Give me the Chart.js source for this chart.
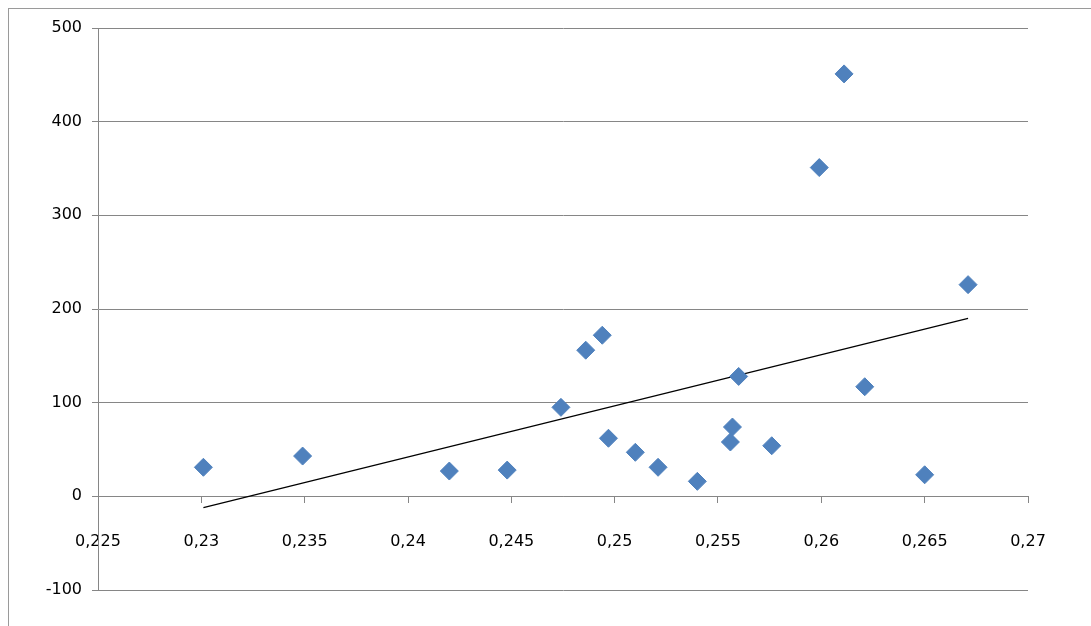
<!DOCTYPE html>
<html><head><meta charset="utf-8">
<script src="https://cdn.jsdelivr.net/npm/chart.js@4/dist/chart.umd.min.js"></script>
<style>
html,body{margin:0;padding:0;background:#fff;}
#wrap{position:relative;width:1091px;height:626px;}
#frame{position:absolute;left:8px;top:8px;width:1100px;height:700px;border:1px solid #9a9a9a;}
canvas{position:absolute;left:0;top:0;}
</style></head><body>
<div id="wrap"><div id="frame"></div><canvas id="c" width="1091" height="626"></canvas></div>
<script>
const xValues=[0.2301,0.2349,0.2420,0.2448,0.2474,0.2486,0.2494,0.2497,0.2510,0.2521,0.2540,0.2557,0.2556,0.2560,0.2576,0.2599,0.2611,0.2621,0.2650,0.2671];
const yValues=[31,43,27,28,95,156,172,62,47,31,16,74,58,128,54,351,451,117,23,226];
const trendX=[0.2301,0.2671];
const trendY=[-12,190];
const pts=xValues.map((x,i)=>({x,y:yValues[i]}));
const trend=trendX.map((x,i)=>({x,y:trendY[i]}));
new Chart(document.getElementById('c'),{
 type:'scatter',
 data:{datasets:[
  {data:pts,pointStyle:'rectRot',pointRadius:9,pointHoverRadius:9,backgroundColor:'#4F81BD',borderColor:'#4F81BD',borderWidth:1},
  {type:'line',data:trend,borderColor:'#000',borderWidth:1.2,pointRadius:0,fill:false}
 ]},
 options:{responsive:false,animation:false,
  layout:{padding:{left:8,top:28,right:63,bottom:36}},
  plugins:{legend:{display:false},tooltip:{enabled:false}},
  scales:{
   x:{type:'linear',min:0.225,max:0.27,position:{y:0},
      ticks:{stepSize:0.005,color:'#000',font:{family:'DejaVu Sans',size:16},padding:30,
        callback:v=>String(+v.toFixed(3)).replace('.',',')},
      grid:{display:true,drawOnChartArea:false,drawTicks:true,tickLength:6,color:'#868686'},
      border:{color:'#868686'}},
   y:{min:-100,max:500,
      ticks:{stepSize:100,color:'#000',font:{family:'DejaVu Sans',size:16},padding:10},
      grid:{color:'#868686',tickLength:6},
      border:{color:'#868686'},
      afterFit:s=>{s.width=90;}}
  }}
});
</script></body></html>
